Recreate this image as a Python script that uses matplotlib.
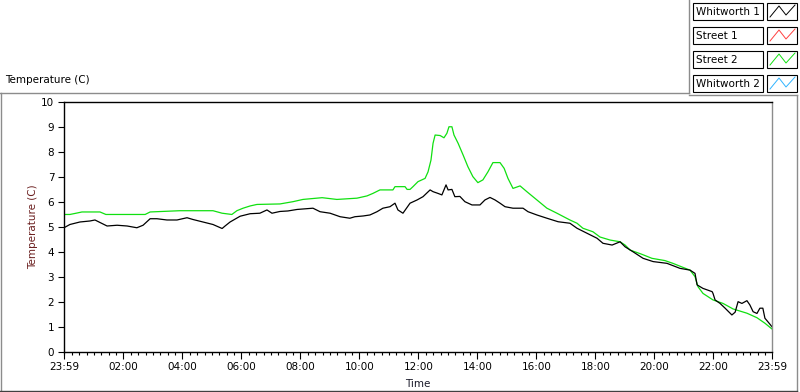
import matplotlib.pyplot as plt
from matplotlib.ticker import FixedLocator, MultipleLocator
from matplotlib.patches import Rectangle

plt.rcParams['font.family'] = ['DejaVu Sans']
plt.rcParams['font.size'] = 7.5

# hours elapsed since 23:59 of the previous day
street2_hours = [0.00, 0.20, 0.41, 0.61, 1.22, 1.42, 2.75, 2.92, 3.93, 5.05, 5.36, 5.69,
                 5.86, 6.07, 6.31, 6.54, 7.32, 7.76, 8.10, 8.75, 9.25, 9.93, 10.27, 10.47,
                 10.71, 11.15, 11.22, 11.56, 11.63, 11.73, 11.83, 12.00, 12.24, 12.34, 12.44,
                 12.51, 12.58, 12.75, 12.88, 12.98, 13.05, 13.15, 13.22, 13.36, 13.53, 13.69,
                 13.86, 14.03, 14.20, 14.37, 14.54, 14.78, 14.92, 15.05, 15.22, 15.46, 15.69,
                 16.03, 16.37, 16.71, 17.15, 17.39, 17.59, 17.93, 18.17, 18.51, 18.85, 19.02,
                 19.19, 19.59, 19.93, 20.37, 20.64, 20.98, 21.22, 21.39, 21.49, 21.66, 22.00,
                 22.34, 22.68, 23.15, 23.49, 23.76, 24.00]
street2_temp = [5.50, 5.50, 5.55, 5.60, 5.60, 5.50, 5.50, 5.60, 5.65, 5.65, 5.55, 5.50,
                5.65, 5.75, 5.84, 5.90, 5.92, 6.01, 6.10, 6.17, 6.10, 6.15, 6.24, 6.34,
                6.48, 6.48, 6.61, 6.61, 6.50, 6.50, 6.61, 6.81, 6.94, 7.20, 7.67,
                8.34, 8.67, 8.65, 8.56, 8.74, 9.00, 9.00, 8.67, 8.34, 7.87, 7.41,
                7.01, 6.77, 6.88, 7.20, 7.57, 7.57, 7.34, 6.94, 6.54, 6.64, 6.41,
                6.08, 5.75, 5.55, 5.28, 5.15, 4.95, 4.81, 4.60, 4.48, 4.41, 4.28,
                4.08, 3.91, 3.75, 3.66, 3.55, 3.39, 3.28, 3.02, 2.62, 2.35, 2.09,
                1.95, 1.73, 1.56, 1.38, 1.16, 0.93]

whitworth1_hours = [0.00, 0.20, 0.54, 0.88, 1.05, 1.22, 1.46, 1.80, 2.14, 2.47, 2.68, 2.92,
                    3.15, 3.49, 3.83, 4.17, 4.37, 4.71, 5.05, 5.36, 5.46, 5.63, 5.97, 6.31,
                    6.64, 6.88, 7.05, 7.32, 7.59, 7.90, 8.44, 8.68, 9.02, 9.36, 9.69, 9.86,
                    10.14, 10.37, 10.61, 10.81, 11.05, 11.22, 11.32, 11.49, 11.73, 11.97,
                    12.17, 12.41, 12.51, 12.68, 12.81, 12.95, 13.02, 13.15, 13.25, 13.42,
                    13.59, 13.83, 14.10, 14.27, 14.44, 14.61, 14.78, 14.95, 15.22, 15.56,
                    15.73, 16.03, 16.37, 16.75, 17.15, 17.39, 17.73, 18.07, 18.27, 18.58,
                    18.85, 19.02, 19.29, 19.63, 19.97, 20.44, 20.88, 21.22, 21.39, 21.46,
                    21.66, 21.97, 22.00, 22.07, 22.24, 22.41, 22.64, 22.75, 22.85, 22.98,
                    23.15, 23.25, 23.36, 23.49, 23.59, 23.69, 23.76, 23.86, 24.00]
whitworth1_temp = [4.97, 5.10, 5.20, 5.24, 5.28, 5.18, 5.04, 5.07, 5.04, 4.97, 5.07, 5.33,
                   5.33, 5.28, 5.28, 5.37, 5.30, 5.20, 5.10, 4.94, 5.04, 5.20, 5.43, 5.53,
                   5.55, 5.68, 5.55, 5.62, 5.64, 5.70, 5.75, 5.61, 5.55, 5.41, 5.35, 5.41,
                   5.44, 5.48, 5.61, 5.75, 5.81, 5.95, 5.68, 5.55, 5.95, 6.08,
                   6.21, 6.48, 6.41, 6.34, 6.28, 6.68, 6.48, 6.50, 6.21, 6.22,
                   6.01, 5.88, 5.88, 6.08, 6.18, 6.08, 5.95, 5.81, 5.75, 5.75,
                   5.61, 5.48, 5.35, 5.21, 5.15, 4.95, 4.75, 4.55, 4.35, 4.28,
                   4.41, 4.21, 4.01, 3.75, 3.62, 3.55, 3.35, 3.28, 3.15, 2.69,
                   2.55, 2.42, 2.35, 2.09, 1.95, 1.76, 1.49, 1.60, 2.02, 1.95,
                   2.06, 1.89, 1.62, 1.55, 1.76, 1.76, 1.36, 1.22, 1.02]

tick_labels = ['23:59', '02:00', '04:00', '06:00', '08:00', '10:00', '12:00',
               '14:00', '16:00', '18:00', '20:00', '22:00', '23:59']

legend_names = ['Whitworth 1', 'Street 1', 'Street 2', 'Whitworth 2']
legend_colors = ['black', '#ff4040', '#10e010', '#30b4ff']

W, H = 800, 392
fig = plt.figure(figsize=(W / 100, H / 100), dpi=100)
fig.patch.set_facecolor('white')

# frame / legend decorations in pixel coordinates
deco = fig.add_axes([0, 0, 1, 1])
deco.set_xlim(0, W)
deco.set_ylim(H, 0)
deco.axis('off')
gray = '#8c8c8c'
deco.plot([0, 689], [92.7, 92.7], color=gray, lw=1)
deco.plot([689, 689], [0, 92.7], color=gray, lw=1)
deco.plot([689, 797], [95, 95], color=gray, lw=1)
deco.plot([797, 797], [95, 391], color=gray, lw=1)
deco.plot([1, 1], [92.7, 391], color=gray, lw=1)
deco.plot([0, 797], [391, 391], color='#404040', lw=1)

for i, (name, col) in enumerate(zip(legend_names, legend_colors)):
    top = 3 + i * 24
    deco.add_patch(Rectangle((693, top), 70, 17, facecolor='white', edgecolor='black', lw=0.8))
    deco.add_patch(Rectangle((767, top), 30, 17, facecolor='white', edgecolor='black', lw=0.8))
    deco.text(696, top + 8.5, name, va='center', ha='left', fontsize=7.5)
    deco.plot([770, 779, 786, 795], [top + 14, top + 3, top + 12, top + 2], color=col, lw=0.7)

deco.text(5, 80, 'Temperature (C)', va='center', ha='left', fontsize=7.5)

# main chart
ax = fig.add_axes([64 / W, 1 - 352.3 / H, 708 / W, 250.6 / H])
ax.plot(street2_hours, street2_temp, color=legend_colors[2], lw=0.9)
ax.plot(whitworth1_hours, whitworth1_temp, color=legend_colors[0], lw=0.9)

ax.set_xlim(0, 24)
ax.set_ylim(0, 10)
tick_pos = [0] + [h + 1 / 60 for h in range(2, 24, 2)] + [24]
ax.xaxis.set_major_locator(FixedLocator(tick_pos))
ax.set_xticklabels(tick_labels)
ax.xaxis.set_minor_locator(MultipleLocator(0.25, offset=1 / 60))
ax.set_yticks(range(0, 11))

ax.tick_params(axis='x', which='major', length=5, width=0.8, pad=2, direction='out')
ax.tick_params(axis='x', which='minor', length=2.5, width=0.8, direction='out')
ax.tick_params(axis='y', which='major', length=4, width=0.8, pad=3, direction='out')

for s in ['left', 'bottom', 'top']:
    ax.spines[s].set_color('black')
    ax.spines[s].set_linewidth(1)
ax.spines['right'].set_color(gray)
ax.spines['right'].set_linewidth(1)

ax.set_xlabel('Time', color='#1a1a2a', labelpad=5)
ax.set_ylabel('Temperature (C)', color='#6b1f1f')
ax.yaxis.set_label_coords(-0.037, 0.5)

fig.savefig('out.png', dpi=100)
